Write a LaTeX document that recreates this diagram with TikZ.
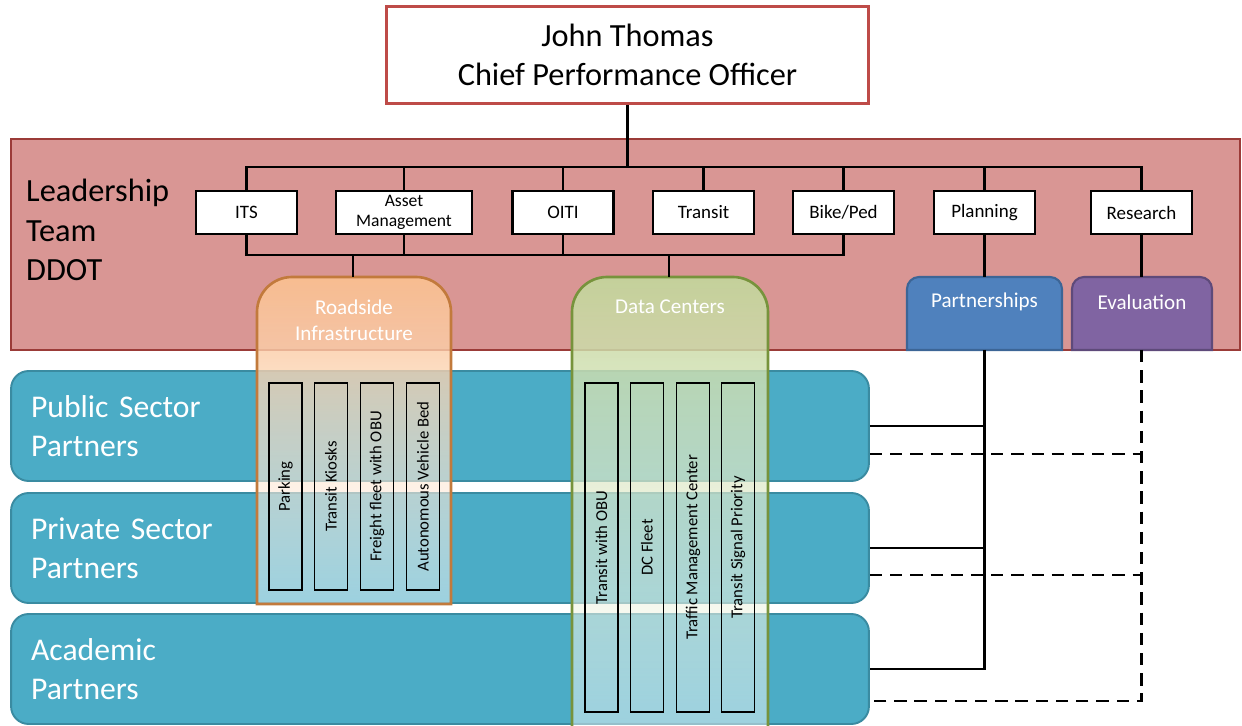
\documentclass[tikz,border=0pt]{standalone}
\usepackage{fontspec}
\setmainfont{Carlito}
\usetikzlibrary{calc,fadings}
\definecolor{bandred}{HTML}{D99694}
\definecolor{bandline}{HTML}{9B3B38}
\definecolor{topline}{HTML}{BE4B48}
\definecolor{rowblue}{HTML}{4BACC6}
\definecolor{rowline}{HTML}{3A8BA1}
\definecolor{partblue}{HTML}{4F81BD}
\definecolor{partline}{HTML}{3C6596}
\definecolor{evalpurple}{HTML}{8064A2}
\definecolor{evalline}{HTML}{5E4A7A}
\definecolor{roadorange}{HTML}{FAC090}
\definecolor{roadline}{HTML}{C27A3C}
\definecolor{datagreen}{HTML}{C3D69B}
\definecolor{dataline}{HTML}{77933C}
\tikzfading[name=colfade, top color=transparent!8, bottom color=transparent!55]
\def\roundtop[#1](#2,#3)(#4,#5)(#6){\path[#1] (#2,#5) -- (#2,#3+#6) arc (180:270:#6) -- (#4-#6,#3) arc (270:360:#6) -- (#4,#5) -- cycle;}
\tikzset{
	tree/.style={line width=1.6pt, black},
	dashline/.style={line width=1.6pt, black, dash pattern=on 7pt off 4.5pt},
	unitbox/.style={draw=black, line width=1.6pt, fill=white, font=\fontsize{10.8}{12}\selectfont, minimum width=2.02cm, minimum height=0.86cm, inner sep=1pt, align=center},
	rowbox/.style={draw=rowline, line width=1.1pt, fill=rowblue, rounded corners=10pt, minimum width=17.16cm, minimum height=2.2cm, inner xsep=0.4cm, text width=16.36cm, align=left, text=white, font=\fontsize{18}{22.3}\selectfont},
	itembox/.style={draw=black, line width=0.9pt, rotate=90, font=\fontsize{9.5}{11}\selectfont, inner sep=0pt, minimum height=0.66cm},
	headtext/.style={text=white, font=\fontsize{12}{14.7}\selectfont, align=center},
	bigtext/.style={font=\fontsize{18.4}{22.5}\selectfont, align=left}
}
\begin{document}
\begin{tikzpicture}[x=0.02cm, y=-0.02cm]
	\useasboundingbox (0,0) rectangle (1242,726);
	
	\node[draw=topline, line width=1.6pt, fill=white, minimum width=9.64cm, minimum height=1.94cm, bigtext, align=center] (chief) at (627.5,55) {John Thomas\\Chief Performance Officer};
	
	\draw[draw=bandline, line width=1.5pt, fill=bandred] (11,139) rectangle (1240,350);
	\node[bigtext, anchor=west] (lead) at (20,230) {Leadership\\Team\\DDOT};
	
	\node[unitbox] (its) at (246.5,212.5) {ITS};
	\node[unitbox, minimum width=2.72cm, font=\fontsize{10}{11.5}\selectfont] (asset) at (404,212.5) {Asset\\Management};
	\node[unitbox] (oiti) at (563,212.5) {OITI};
	\node[unitbox] (transit) at (703.5,212.5) {Transit};
	\node[unitbox] (bike) at (843.5,212.5) {Bike/Ped};
	\node[unitbox] (planning) at (984.5,212.5) {Planning};
	\node[unitbox] (research) at (1141.5,212.5) {Research};
	
	\roundtop[fill=partblue, draw=partline, line width=1.2pt](907,277)(1062,350)(12)
	\node[headtext] (partner) at (984.5,302) {Partnerships};
	\roundtop[fill=evalpurple, draw=evalline, line width=1.2pt](1072,277)(1212,350)(12)
	\node[headtext] (evaluation) at (1142,302) {Evaluation};
	
	\node[rowbox] (pub) at (440,426) {Public Sector\\Partners};
	\node[rowbox] (priv) at (440,548) {Private Sector\\Partners};
	\node[rowbox] (acad) at (440,669) {Academic\\Partners};
	
	\roundtop[top color=roadorange, bottom color=white, path fading=colfade](257,277)(451,604)(35)
	\roundtop[draw=roadline, line width=1.5pt](257,277)(451,604)(35)
	\node[headtext] (roadside) at (354,320) {Roadside\\Infrastructure};
	\roundtop[top color=datagreen, bottom color=white, path fading=colfade](572,277)(768,735)(35)
	\roundtop[draw=dataline, line width=1.5pt](572,277)(768,735)(35)
	\node[headtext] (datacenters) at (670,307) {Data Centers};
	
	\foreach \x/\t [count=\i] in {285.5/Parking, 331/Transit Kiosks, 377/Freight fleet with OBU, 423/Autonomous Vehicle Bed}
		\node[itembox, minimum width=4.15cm] (road\i) at (\x,486.5) {\t};
	\foreach \x/\t [count=\i] in {601.5/Transit with OBU, 647/DC Fleet, 693/Traffic Management Center, 738/Transit Signal Priority}
		\node[itembox, minimum width=6.58cm] (data\i) at (\x,547.5) {\t};
	
	\coordinate (busTop) at (627.5,167);
	\coordinate (busLow) at (500,255);
	\coordinate (roadTop) at (353,277);
	\coordinate (dataTop) at (669,277);
	\coordinate (partTop) at (984.5,277);
	\coordinate (partBot) at (984.5,350);
	\coordinate (evalTop) at (1141.5,277);
	\coordinate (evalBot) at (1141.5,350);
	\coordinate (pubDash) at ($(pub.east)+(0,28)$);
	\coordinate (privDash) at ($(priv.east)+(0,27)$);
	\coordinate (acadDash) at ($(acad.east)+(0,32)$);
	
	\draw[tree] (chief.south) -- (busTop);
	\draw[tree] (its.north) |- (busTop) -| (research.north);
	\foreach \u in {asset,oiti,transit,bike,planning}
		\draw[tree] (\u.north) -- (\u.north |- busTop);
	\draw[tree] (its.south) |- (busLow) -| (bike.south);
	\foreach \u in {asset,oiti}
		\draw[tree] (\u.south) -- (\u.south |- busLow);
	\draw[tree] (roadTop) -- (roadTop |- busLow);
	\draw[tree] (dataTop) -- (dataTop |- busLow);
	\draw[tree] (planning.south) -- (partTop);
	\draw[tree] (research.south) -- (evalTop);
	
	\draw[tree] (partBot) |- (acad.east);
	\draw[tree] (pub.east) -- (pub.east -| partBot);
	\draw[tree] (priv.east) -- (priv.east -| partBot);
	\draw[dashline] (evalBot) |- (acadDash);
	\draw[dashline] (pubDash) -- (pubDash -| evalBot);
	\draw[dashline] (privDash) -- (privDash -| evalBot);
\end{tikzpicture}
\end{document}
